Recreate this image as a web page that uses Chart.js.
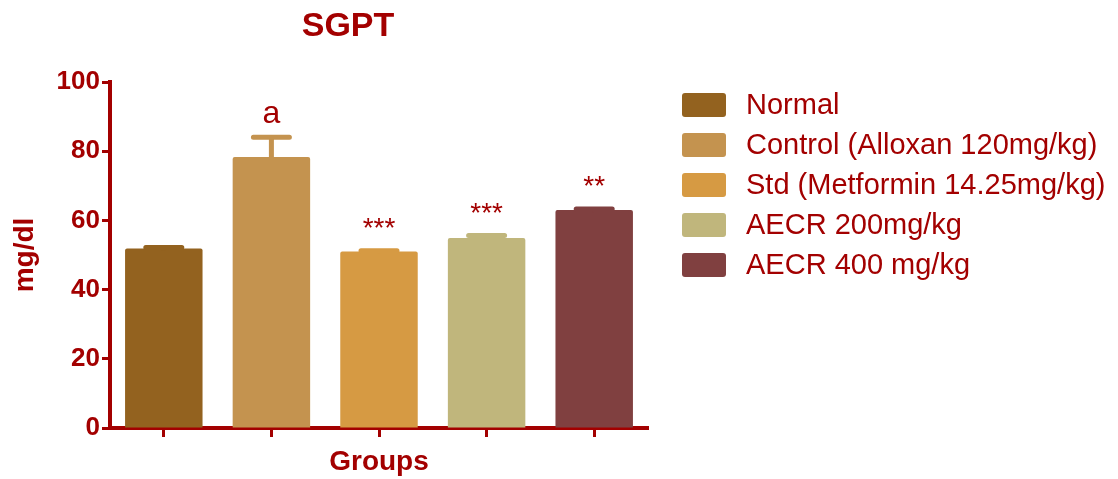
<!DOCTYPE html>
<html>
<head>
<meta charset="utf-8">
<script src="https://cdn.jsdelivr.net/npm/chart.js@4.4.1/dist/chart.umd.min.js"></script>
<style>
  html, body { margin: 0; padding: 0; background: #ffffff; }
  #wrap { width: 1118px; height: 479px; position: relative; }
</style>
</head>
<body>
<div id="wrap"><canvas id="c" width="1118" height="479"></canvas></div>
<script>
// Serum SGPT by treatment group (mean + SEM, mg/dl)
const groups = ['Normal', 'Control (Alloxan 120mg/kg)', 'Std (Metformin 14.25mg/kg)', 'AECR 200mg/kg', 'AECR 400 mg/kg'];
const meanValues = [51.9, 78.3, 51.0, 54.9, 63.0];
const semValues = [0.3, 5.7, 0.2, 0.7, 0.3];
const significance = ['', 'a', '***', '***', '**'];
const barColors = ['#93621f', '#c4934f', '#d69a43', '#c0b67c', '#804040'];
const yTickValues = [0, 20, 40, 60, 80, 100];

const RED = '#a30000';
const FONT = '"Liberation Sans", Arial, Helvetica, sans-serif';

// Error bars (upper SEM) and significance marks above each bar
const errorBarPlugin = {
  id: 'errorBars',
  afterDatasetsDraw(chart) {
    const ctx = chart.ctx;
    const yScale = chart.scales.y;
    const meta = chart.getDatasetMeta(0);
    meta.data.forEach((bar, i) => {
      const x = bar.x;
      const yTop = yScale.getPixelForValue(meanValues[i] + semValues[i]);
      const yBar = bar.y;
      ctx.save();
      ctx.strokeStyle = barColors[i];
      ctx.lineWidth = 5;
      ctx.lineCap = 'round';
      ctx.beginPath();
      ctx.moveTo(x, yBar);
      ctx.lineTo(x, yTop);
      ctx.moveTo(x - 18, yTop);
      ctx.lineTo(x + 18, yTop);
      ctx.stroke();
      if (significance[i]) {
        ctx.fillStyle = RED;
        ctx.textAlign = 'center';
        ctx.textBaseline = 'alphabetic';
        ctx.font = (significance[i] === 'a' ? '32px ' : '28px ') + FONT;
        ctx.fillText(significance[i], x, yTop - 14);
      }
      ctx.restore();
    });
  }
};

// Chart heading and the group key on the right
const headingLegendPlugin = {
  id: 'headingLegend',
  afterDraw(chart) {
    const ctx = chart.ctx;
    ctx.save();
    ctx.fillStyle = RED;
    ctx.textAlign = 'center';
    ctx.textBaseline = 'middle';
    ctx.font = 'bold 34px ' + FONT;
    ctx.fillText('SGPT', 348, 27);

    const boxX = 682, boxW = 44, boxH = 24, textX = 746, firstY = 105, gap = 40;
    groups.forEach((g, i) => {
      const cy = firstY + i * gap;
      ctx.fillStyle = barColors[i];
      ctx.beginPath();
      ctx.roundRect(boxX, cy - boxH / 2, boxW, boxH, 3);
      ctx.fill();
      ctx.fillStyle = RED;
      ctx.textAlign = 'left';
      ctx.textBaseline = 'middle';
      ctx.font = '29px ' + FONT;
      ctx.fillText(g, textX, cy + 1);
    });
    ctx.restore();
  }
};

new Chart(document.getElementById('c'), {
  type: 'bar',
  data: {
    labels: groups,
    datasets: [{
      data: meanValues,
      backgroundColor: barColors,
      borderWidth: 0,
      borderRadius: 2,
      borderSkipped: 'bottom',
      categoryPercentage: 1.0,
      barPercentage: 0.72
    }]
  },
  options: {
    responsive: false,
    animation: false,
    devicePixelRatio: 1,
    layout: { padding: { top: 82, right: 470, bottom: 0, left: 0 } },
    plugins: {
      legend: { display: false },
      tooltip: { enabled: false }
    },
    scales: {
      x: {
        offset: true,
        grid: {
          display: true,
          offset: false,
          drawOnChartArea: false,
          drawTicks: true,
          tickLength: 9,
          tickWidth: 3,
          tickColor: RED,
          color: RED
        },
        border: { display: true, color: RED, width: 4 },
        ticks: { display: false },
        title: {
          display: true,
          text: 'Groups',
          color: RED,
          font: { family: FONT, size: 28, weight: 'bold', lineHeight: 1 },
          padding: { top: 0, bottom: 3 }
        },
        afterFit(scale) { scale.height = 51; }
      },
      y: {
        min: 0,
        max: 100,
        afterBuildTicks(scale) { scale.ticks = yTickValues.map(v => ({ value: v })); },
        grid: {
          display: true,
          drawOnChartArea: false,
          drawTicks: true,
          tickLength: 8,
          tickWidth: 3,
          tickColor: RED,
          color: RED
        },
        border: { display: true, color: RED, width: 4 },
        ticks: {
          color: RED,
          padding: 2,
          font: { family: FONT, size: 26, weight: 'bold' }
        },
        title: {
          display: true,
          text: 'mg/dl',
          color: RED,
          font: { family: FONT, size: 28, weight: 'bold', lineHeight: 1 },
          padding: { top: 11, bottom: 0 }
        },
        afterFit(scale) { scale.width = 110; }
      }
    }
  },
  plugins: [errorBarPlugin, headingLegendPlugin]
});
</script>
</body>
</html>
